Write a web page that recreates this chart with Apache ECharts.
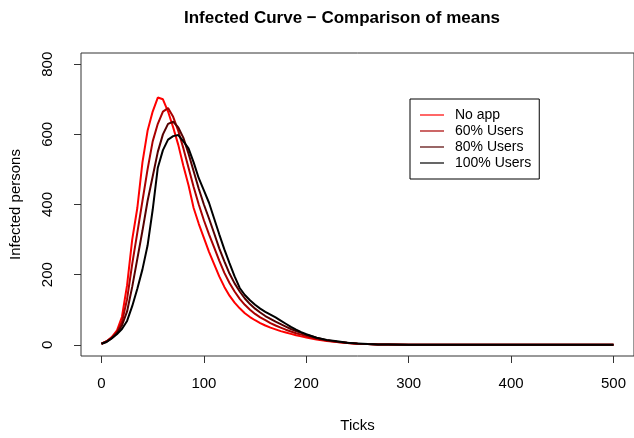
<!DOCTYPE html>
<html>
<head>
<meta charset="UTF-8">
<title>Infected Curve</title>
<script src="https://cdn.jsdelivr.net/npm/echarts@6/dist/echarts.min.js"></script>
<style>
body { margin: 0; padding: 0; background: #fff; }
#main { width: 634px; height: 438px; }
</style>
</head>
<body>
<div id="main"></div>
<script>
var ticks = [0,5,10,15,20,25,30,35,40,45,50,55,60,65,70,75,80,85,90,95,100,
  105,110,115,120,125,130,135,140,145,150,155,160,165,170,175,180,185,190,195,200,
  210,220,230,240,250,260,270,280,300,350,400,450,500];

var noApp = [3,10,22,40,80,170,300,390,520,610,665,705,700,665,620,570,510,455,390,345,305,
  265,230,195,165,140,120,104,90,79,70,62,55,49,44,39,35,31,27,24,21,
  15,11,8,5,3,2,1,1,0,0,0,0,0];
var users60 = [3,10,20,36,65,130,230,320,410,500,580,630,665,675,650,610,560,505,450,400,355,
  315,278,240,205,176,152,131,114,100,88,78,70,62,55,49,43,38,33,29,25,
  17,12,8,5,3,2,1,1,0,0,0,0,0];
var users80 = [3,9,19,33,55,95,165,245,325,410,480,550,600,630,636,620,590,545,495,445,400,
  360,318,275,238,203,175,152,132,116,103,92,82,74,66,59,52,45,39,34,29,
  20,13,9,6,3,2,1,1,0,0,0,0,0];
var users100 = [3,8,18,30,45,68,110,160,215,283,385,505,555,585,595,598,580,560,520,475,440,
  405,360,315,272,233,195,162,142,127,114,103,94,86,78,69,60,51,43,36,30,
  20,14,10,6,4,2,1,1,0,0,0,0,0];

var seriesNames = ['No app', '60% Users', '80% Users', '100% Users'];
var seriesColors = ['#ff0000', '#aa0000', '#550000', '#000000'];
var xTicks = [0, 100, 200, 300, 400, 500];
var yTicks = [0, 200, 400, 600, 800];

function pairs(vals) {
  var out = [];
  for (var i = 0; i < ticks.length; i++) out.push([ticks[i], vals[i]]);
  return out;
}

var allValues = [noApp, users60, users80, users100];
var series = [];
for (var s = 0; s < seriesNames.length; s++) {
  series.push({
    name: seriesNames[s],
    type: 'line',
    symbol: 'none',
    data: pairs(allValues[s]),
    lineStyle: { color: seriesColors[s], width: 2 },
    itemStyle: { color: seriesColors[s] },
    animation: false
  });
}

var chart = echarts.init(document.getElementById('main'));
var font = 'Liberation Sans, Arial, Helvetica, sans-serif';
option = {
  backgroundColor: '#fff',
  animation: false,
  title: {
    text: 'Infected Curve \u2212 Comparison of means',
    left: 179,
    top: 5,
    textStyle: { fontFamily: font, fontSize: 17, fontWeight: 'bold', color: '#000' }
  },
  legend: {
    data: seriesNames,
    orient: 'vertical',
    left: 410,
    top: 99,
    padding: [9, 8, 9, 10],
    icon: 'rect',
    itemWidth: 24,
    itemHeight: 1.2,
    itemGap: 2,
    borderColor: '#000',
    borderWidth: 1,
    textStyle: { fontFamily: font, fontSize: 14, color: '#000', lineHeight: 14, padding: [0, 0, 0, 6] }
  },
  grid: {
    left: 81,
    top: 53,
    width: 556,
    height: 305,
    show: true,
    borderColor: '#333',
    borderWidth: 1
  },
  xAxis: {
    type: 'value',
    min: -20,
    max: 520,
    name: 'Ticks',
    nameLocation: 'middle',
    nameGap: 62,
    nameTextStyle: { fontFamily: font, fontSize: 15, color: '#000' },
    axisLine: { show: false, onZero: false },
    splitLine: { show: false },
    axisTick: { show: true, length: 7, customValues: xTicks, lineStyle: { color: '#333' } },
    axisLabel: { customValues: xTicks, margin: 20, fontFamily: font, fontSize: 15, color: '#000' }
  },
  yAxis: {
    type: 'value',
    min: -32,
    max: 832,
    name: 'Infected persons',
    nameLocation: 'middle',
    nameGap: 58,
    nameTextStyle: { fontFamily: font, fontSize: 15, color: '#000' },
    axisLine: { show: false, onZero: false },
    splitLine: { show: false },
    axisTick: { show: true, length: 7, customValues: yTicks, lineStyle: { color: '#333' } },
    axisLabel: { customValues: yTicks, rotate: 90, margin: 26, fontFamily: font, fontSize: 15, color: '#000' }
  },
  series: series
};
chart.setOption(option);
</script>
</body>
</html>
